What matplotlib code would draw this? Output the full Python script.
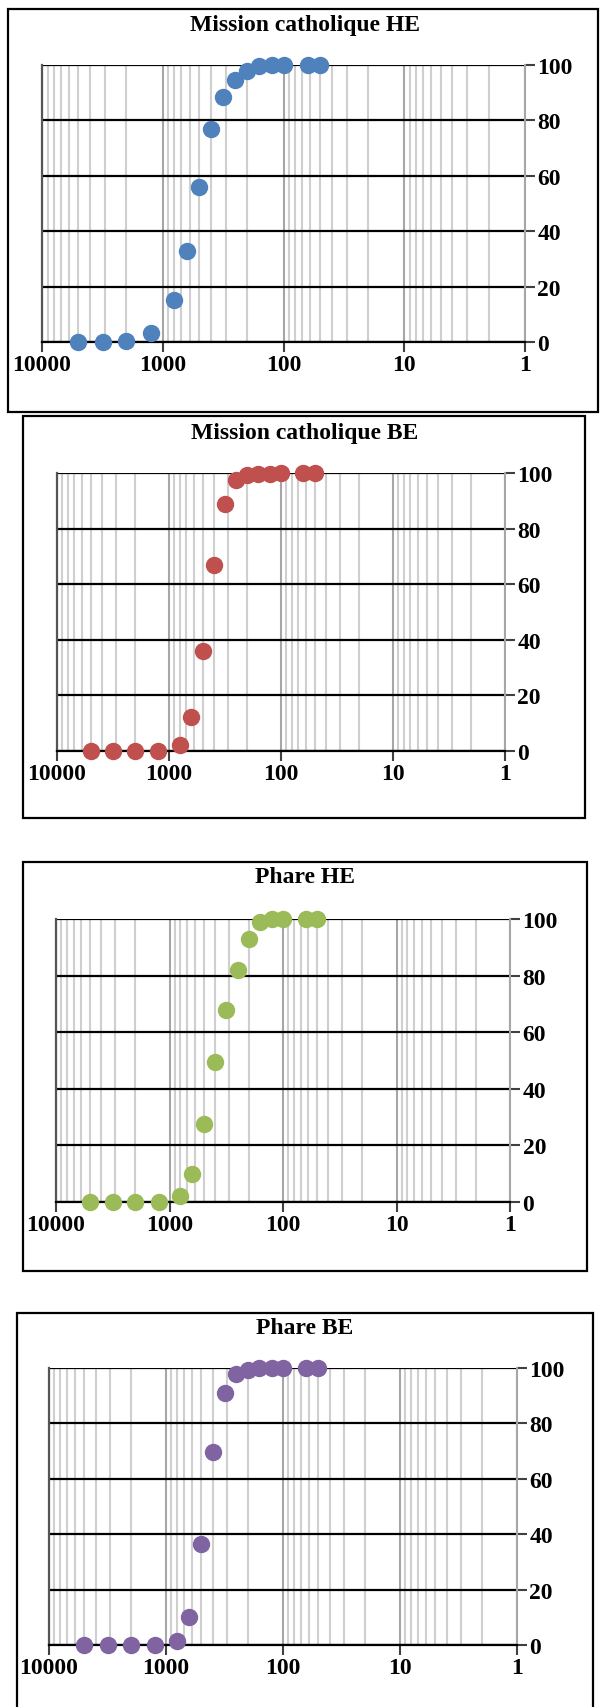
import matplotlib
matplotlib.use("Agg")
import matplotlib.pyplot as plt
from matplotlib.patches import Rectangle
from matplotlib.ticker import LogLocator, FixedLocator, NullFormatter
import numpy as np

# sieve openings (µm) and cumulative % passing
sizes = [5000, 3150, 2000, 1250, 800, 630, 500, 400, 315, 250, 200, 160, 125, 100, 63, 50]

mission_he = [0, 0, 0.3, 3.3, 15, 33, 56, 77, 88.5, 94.5, 98, 99.6, 99.9, 100, 100, 100]
mission_be = [0, 0, 0, 0, 2.3, 12.3, 36, 67, 89, 97.5, 99.4, 99.6, 99.8, 100, 100, 100]
phare_he = [0, 0, 0, 0, 2.2, 10, 27.5, 49.5, 68, 82, 93, 98.8, 99.9, 100, 100, 100]
phare_be = [0, 0, 0, 0, 1.4, 10, 36.5, 69.5, 91, 98, 99.4, 99.9, 100, 100, 100, 100]

titles = ["Mission catholique HE", "Mission catholique BE", "Phare HE", "Phare BE"]
series = [mission_he, mission_be, phare_he, phare_be]
colors = ["#4F81BD", "#C0504D", "#9BBB59", "#8064A2"]

W, H = 600, 1708
# (axes left, right, top, bottom), (box left, right, top, bottom), title y -- in pixels
layout = [
    ((42, 525, 66, 343), (8, 598, 10, 413), 25),
    ((57, 505, 474, 752), (23, 585, 417, 819), 434),
    ((56, 510, 920, 1203), (23, 587, 863, 1272), 878),
    ((49, 517, 1369, 1646), (17, 593, 1314, 1712), 1329),
]

font = dict(family="Liberation Serif", weight="bold")

fig = plt.figure(figsize=(W / 100, H / 100), dpi=100)


def fx(px):
    return px / W


def fy(py):
    return 1 - py / H


for (ax_box, frame, ty), title, vals, col in zip(layout, titles, series, colors):
    l, r, t, b = ax_box
    ax = fig.add_axes([fx(l), fy(b), fx(r) - fx(l), fy(t) - fy(b)])

    bl, br, bt, bb = frame
    fig.patches.append(Rectangle((fx(bl), fy(bb)), fx(br) - fx(bl), fy(bt) - fy(bb),
                                 transform=fig.transFigure, fill=False,
                                 edgecolor="black", linewidth=1.6, zorder=0))
    fig.text(fx(305), fy(ty), title, ha="center", va="center", fontsize=17, **font)

    ax.plot(sizes, vals, "o", color=col, markersize=11.5, clip_on=False, zorder=5)

    ax.set_xscale("log")
    ax.set_xlim(10000, 1)
    ax.set_ylim(0, 100)

    ax.xaxis.set_major_locator(FixedLocator([10000, 1000, 100, 10, 1]))
    ax.xaxis.set_minor_locator(LogLocator(base=10, subs=np.arange(2, 10)))
    ax.xaxis.set_minor_formatter(NullFormatter())
    ax.set_xticklabels(["10000", "1000", "100", "10", "1"])
    ax.set_yticks([0, 20, 40, 60, 80, 100])

    ax.yaxis.tick_right()
    ax.tick_params(axis="x", which="major", direction="out", length=7, width=1.5,
                   color="#404040", pad=2, labelsize=17)
    ax.tick_params(axis="x", which="minor", length=0)
    ax.tick_params(axis="y", which="major", direction="out", length=7, width=1.5,
                   color="#404040", pad=2, labelsize=17)
    for lab in ax.get_xticklabels() + ax.get_yticklabels():
        lab.set_fontfamily("Liberation Serif")
        lab.set_fontweight("bold")

    ax.set_axisbelow(True)
    ax.xaxis.grid(True, which="major", color="#A6A6A6", linewidth=1.5)
    ax.xaxis.grid(True, which="minor", color="#CFCFCF", linewidth=1.5)
    ax.yaxis.grid(True, which="major", color="black", linewidth=1.6)

    ax.spines["top"].set_visible(False)
    ax.spines["right"].set_color("#A6A6A6")
    ax.spines["right"].set_linewidth(1.5)
    ax.spines["left"].set_color("#555555")
    ax.spines["left"].set_linewidth(1.6)
    ax.spines["bottom"].set_color("black")
    ax.spines["bottom"].set_linewidth(1.6)
    ax.patch.set_alpha(0)

fig.savefig("out.png", dpi=100)
